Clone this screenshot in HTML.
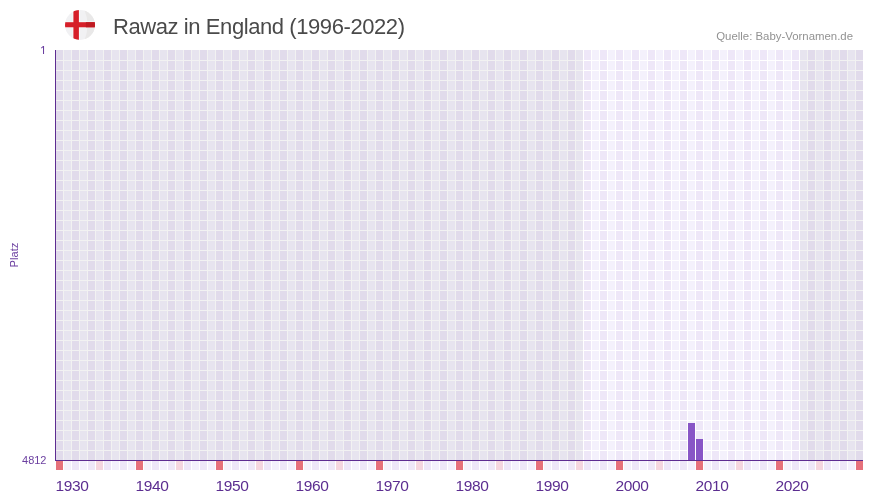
<!DOCTYPE html>
<html><head><meta charset="utf-8"><title>Rawaz in England</title>
<style>
html,body{margin:0;padding:0;background:#fff;}
body{width:873px;height:502px;position:relative;overflow:hidden;font-family:"Liberation Sans",sans-serif;}
.txt{position:absolute;left:0;top:0;width:873px;height:502px;will-change:transform;}
.title{position:absolute;left:113px;top:15px;font-size:22px;line-height:24px;color:#4a4a4a;white-space:nowrap;letter-spacing:-0.42px;}
.src{position:absolute;right:20px;top:29px;font-size:11.4px;line-height:14px;color:#929292;white-space:nowrap;}
.yl{position:absolute;width:46.5px;left:0;text-align:right;font-size:11px;line-height:12px;color:#6b3fa0;}
.xl{position:absolute;top:477px;font-size:15.5px;line-height:18px;color:#5b2d90;white-space:nowrap;letter-spacing:-0.3px;}
.platz{position:absolute;left:14px;top:255px;font-size:11.2px;line-height:12px;color:#6b3fa0;transform:translate(-50%,-50%) rotate(-90deg);white-space:nowrap;}
</style></head><body>
<svg width="873" height="502" viewBox="0 0 873 502" shape-rendering="crispEdges" style="position:absolute;left:0;top:0">
<rect x="56" y="50" width="7" height="410" fill="#eee7f8"/>
<rect x="56" y="461" width="7" height="9" fill="#e6717b"/>
<rect x="64" y="50" width="7" height="410" fill="#f4f1fc"/>
<rect x="64" y="461" width="7" height="9" fill="#f4f1fc"/>
<rect x="72" y="50" width="7" height="410" fill="#eee7f8"/>
<rect x="72" y="461" width="7" height="9" fill="#eee7f8"/>
<rect x="80" y="50" width="7" height="410" fill="#f4f1fc"/>
<rect x="80" y="461" width="7" height="9" fill="#f4f1fc"/>
<rect x="88" y="50" width="7" height="410" fill="#eee7f8"/>
<rect x="88" y="461" width="7" height="9" fill="#eee7f8"/>
<rect x="96" y="50" width="7" height="410" fill="#f4f1fc"/>
<rect x="96" y="461" width="7" height="9" fill="#f5d6df"/>
<rect x="104" y="50" width="7" height="410" fill="#eee7f8"/>
<rect x="104" y="461" width="7" height="9" fill="#eee7f8"/>
<rect x="112" y="50" width="7" height="410" fill="#f4f1fc"/>
<rect x="112" y="461" width="7" height="9" fill="#f4f1fc"/>
<rect x="120" y="50" width="7" height="410" fill="#eee7f8"/>
<rect x="120" y="461" width="7" height="9" fill="#eee7f8"/>
<rect x="128" y="50" width="7" height="410" fill="#f4f1fc"/>
<rect x="128" y="461" width="7" height="9" fill="#f4f1fc"/>
<rect x="136" y="50" width="7" height="410" fill="#eee7f8"/>
<rect x="136" y="461" width="7" height="9" fill="#e6717b"/>
<rect x="144" y="50" width="7" height="410" fill="#f4f1fc"/>
<rect x="144" y="461" width="7" height="9" fill="#f4f1fc"/>
<rect x="152" y="50" width="7" height="410" fill="#eee7f8"/>
<rect x="152" y="461" width="7" height="9" fill="#eee7f8"/>
<rect x="160" y="50" width="7" height="410" fill="#f4f1fc"/>
<rect x="160" y="461" width="7" height="9" fill="#f4f1fc"/>
<rect x="168" y="50" width="7" height="410" fill="#eee7f8"/>
<rect x="168" y="461" width="7" height="9" fill="#eee7f8"/>
<rect x="176" y="50" width="7" height="410" fill="#f4f1fc"/>
<rect x="176" y="461" width="7" height="9" fill="#f5d6df"/>
<rect x="184" y="50" width="7" height="410" fill="#eee7f8"/>
<rect x="184" y="461" width="7" height="9" fill="#eee7f8"/>
<rect x="192" y="50" width="7" height="410" fill="#f4f1fc"/>
<rect x="192" y="461" width="7" height="9" fill="#f4f1fc"/>
<rect x="200" y="50" width="7" height="410" fill="#eee7f8"/>
<rect x="200" y="461" width="7" height="9" fill="#eee7f8"/>
<rect x="208" y="50" width="7" height="410" fill="#f4f1fc"/>
<rect x="208" y="461" width="7" height="9" fill="#f4f1fc"/>
<rect x="216" y="50" width="7" height="410" fill="#eee7f8"/>
<rect x="216" y="461" width="7" height="9" fill="#e6717b"/>
<rect x="224" y="50" width="7" height="410" fill="#f4f1fc"/>
<rect x="224" y="461" width="7" height="9" fill="#f4f1fc"/>
<rect x="232" y="50" width="7" height="410" fill="#eee7f8"/>
<rect x="232" y="461" width="7" height="9" fill="#eee7f8"/>
<rect x="240" y="50" width="7" height="410" fill="#f4f1fc"/>
<rect x="240" y="461" width="7" height="9" fill="#f4f1fc"/>
<rect x="248" y="50" width="7" height="410" fill="#eee7f8"/>
<rect x="248" y="461" width="7" height="9" fill="#eee7f8"/>
<rect x="256" y="50" width="7" height="410" fill="#f4f1fc"/>
<rect x="256" y="461" width="7" height="9" fill="#f5d6df"/>
<rect x="264" y="50" width="7" height="410" fill="#eee7f8"/>
<rect x="264" y="461" width="7" height="9" fill="#eee7f8"/>
<rect x="272" y="50" width="7" height="410" fill="#f4f1fc"/>
<rect x="272" y="461" width="7" height="9" fill="#f4f1fc"/>
<rect x="280" y="50" width="7" height="410" fill="#eee7f8"/>
<rect x="280" y="461" width="7" height="9" fill="#eee7f8"/>
<rect x="288" y="50" width="7" height="410" fill="#f4f1fc"/>
<rect x="288" y="461" width="7" height="9" fill="#f4f1fc"/>
<rect x="296" y="50" width="7" height="410" fill="#eee7f8"/>
<rect x="296" y="461" width="7" height="9" fill="#e6717b"/>
<rect x="304" y="50" width="7" height="410" fill="#f4f1fc"/>
<rect x="304" y="461" width="7" height="9" fill="#f4f1fc"/>
<rect x="312" y="50" width="7" height="410" fill="#eee7f8"/>
<rect x="312" y="461" width="7" height="9" fill="#eee7f8"/>
<rect x="320" y="50" width="7" height="410" fill="#f4f1fc"/>
<rect x="320" y="461" width="7" height="9" fill="#f4f1fc"/>
<rect x="328" y="50" width="7" height="410" fill="#eee7f8"/>
<rect x="328" y="461" width="7" height="9" fill="#eee7f8"/>
<rect x="336" y="50" width="7" height="410" fill="#f4f1fc"/>
<rect x="336" y="461" width="7" height="9" fill="#f5d6df"/>
<rect x="344" y="50" width="7" height="410" fill="#eee7f8"/>
<rect x="344" y="461" width="7" height="9" fill="#eee7f8"/>
<rect x="352" y="50" width="7" height="410" fill="#f4f1fc"/>
<rect x="352" y="461" width="7" height="9" fill="#f4f1fc"/>
<rect x="360" y="50" width="7" height="410" fill="#eee7f8"/>
<rect x="360" y="461" width="7" height="9" fill="#eee7f8"/>
<rect x="368" y="50" width="7" height="410" fill="#f4f1fc"/>
<rect x="368" y="461" width="7" height="9" fill="#f4f1fc"/>
<rect x="376" y="50" width="7" height="410" fill="#eee7f8"/>
<rect x="376" y="461" width="7" height="9" fill="#e6717b"/>
<rect x="384" y="50" width="7" height="410" fill="#f4f1fc"/>
<rect x="384" y="461" width="7" height="9" fill="#f4f1fc"/>
<rect x="392" y="50" width="7" height="410" fill="#eee7f8"/>
<rect x="392" y="461" width="7" height="9" fill="#eee7f8"/>
<rect x="400" y="50" width="7" height="410" fill="#f4f1fc"/>
<rect x="400" y="461" width="7" height="9" fill="#f4f1fc"/>
<rect x="408" y="50" width="7" height="410" fill="#eee7f8"/>
<rect x="408" y="461" width="7" height="9" fill="#eee7f8"/>
<rect x="416" y="50" width="7" height="410" fill="#f4f1fc"/>
<rect x="416" y="461" width="7" height="9" fill="#f5d6df"/>
<rect x="424" y="50" width="7" height="410" fill="#eee7f8"/>
<rect x="424" y="461" width="7" height="9" fill="#eee7f8"/>
<rect x="432" y="50" width="7" height="410" fill="#f4f1fc"/>
<rect x="432" y="461" width="7" height="9" fill="#f4f1fc"/>
<rect x="440" y="50" width="7" height="410" fill="#eee7f8"/>
<rect x="440" y="461" width="7" height="9" fill="#eee7f8"/>
<rect x="448" y="50" width="7" height="410" fill="#f4f1fc"/>
<rect x="448" y="461" width="7" height="9" fill="#f4f1fc"/>
<rect x="456" y="50" width="7" height="410" fill="#eee7f8"/>
<rect x="456" y="461" width="7" height="9" fill="#e6717b"/>
<rect x="464" y="50" width="7" height="410" fill="#f4f1fc"/>
<rect x="464" y="461" width="7" height="9" fill="#f4f1fc"/>
<rect x="472" y="50" width="7" height="410" fill="#eee7f8"/>
<rect x="472" y="461" width="7" height="9" fill="#eee7f8"/>
<rect x="480" y="50" width="7" height="410" fill="#f4f1fc"/>
<rect x="480" y="461" width="7" height="9" fill="#f4f1fc"/>
<rect x="488" y="50" width="7" height="410" fill="#eee7f8"/>
<rect x="488" y="461" width="7" height="9" fill="#eee7f8"/>
<rect x="496" y="50" width="7" height="410" fill="#f4f1fc"/>
<rect x="496" y="461" width="7" height="9" fill="#f5d6df"/>
<rect x="504" y="50" width="7" height="410" fill="#eee7f8"/>
<rect x="504" y="461" width="7" height="9" fill="#eee7f8"/>
<rect x="512" y="50" width="7" height="410" fill="#f4f1fc"/>
<rect x="512" y="461" width="7" height="9" fill="#f4f1fc"/>
<rect x="520" y="50" width="7" height="410" fill="#eee7f8"/>
<rect x="520" y="461" width="7" height="9" fill="#eee7f8"/>
<rect x="528" y="50" width="7" height="410" fill="#f4f1fc"/>
<rect x="528" y="461" width="7" height="9" fill="#f4f1fc"/>
<rect x="536" y="50" width="7" height="410" fill="#eee7f8"/>
<rect x="536" y="461" width="7" height="9" fill="#e6717b"/>
<rect x="544" y="50" width="7" height="410" fill="#f4f1fc"/>
<rect x="544" y="461" width="7" height="9" fill="#f4f1fc"/>
<rect x="552" y="50" width="7" height="410" fill="#eee7f8"/>
<rect x="552" y="461" width="7" height="9" fill="#eee7f8"/>
<rect x="560" y="50" width="7" height="410" fill="#f4f1fc"/>
<rect x="560" y="461" width="7" height="9" fill="#f4f1fc"/>
<rect x="568" y="50" width="7" height="410" fill="#eee7f8"/>
<rect x="568" y="461" width="7" height="9" fill="#eee7f8"/>
<rect x="576" y="50" width="7" height="410" fill="#f4f1fc"/>
<rect x="576" y="461" width="7" height="9" fill="#f5d6df"/>
<rect x="584" y="50" width="7" height="410" fill="#eee7f8"/>
<rect x="584" y="461" width="7" height="9" fill="#eee7f8"/>
<rect x="592" y="50" width="7" height="410" fill="#f4f1fc"/>
<rect x="592" y="461" width="7" height="9" fill="#f4f1fc"/>
<rect x="600" y="50" width="7" height="410" fill="#eee7f8"/>
<rect x="600" y="461" width="7" height="9" fill="#eee7f8"/>
<rect x="608" y="50" width="7" height="410" fill="#f4f1fc"/>
<rect x="608" y="461" width="7" height="9" fill="#f4f1fc"/>
<rect x="616" y="50" width="7" height="410" fill="#eee7f8"/>
<rect x="616" y="461" width="7" height="9" fill="#e6717b"/>
<rect x="624" y="50" width="7" height="410" fill="#f4f1fc"/>
<rect x="624" y="461" width="7" height="9" fill="#f4f1fc"/>
<rect x="632" y="50" width="7" height="410" fill="#eee7f8"/>
<rect x="632" y="461" width="7" height="9" fill="#eee7f8"/>
<rect x="640" y="50" width="7" height="410" fill="#f4f1fc"/>
<rect x="640" y="461" width="7" height="9" fill="#f4f1fc"/>
<rect x="648" y="50" width="7" height="410" fill="#eee7f8"/>
<rect x="648" y="461" width="7" height="9" fill="#eee7f8"/>
<rect x="656" y="50" width="7" height="410" fill="#f4f1fc"/>
<rect x="656" y="461" width="7" height="9" fill="#f5d6df"/>
<rect x="664" y="50" width="7" height="410" fill="#eee7f8"/>
<rect x="664" y="461" width="7" height="9" fill="#eee7f8"/>
<rect x="672" y="50" width="7" height="410" fill="#f4f1fc"/>
<rect x="672" y="461" width="7" height="9" fill="#f4f1fc"/>
<rect x="680" y="50" width="7" height="410" fill="#eee7f8"/>
<rect x="680" y="461" width="7" height="9" fill="#eee7f8"/>
<rect x="688" y="50" width="7" height="410" fill="#f4f1fc"/>
<rect x="688" y="461" width="7" height="9" fill="#f4f1fc"/>
<rect x="696" y="50" width="7" height="410" fill="#eee7f8"/>
<rect x="696" y="461" width="7" height="9" fill="#e6717b"/>
<rect x="704" y="50" width="7" height="410" fill="#f4f1fc"/>
<rect x="704" y="461" width="7" height="9" fill="#f4f1fc"/>
<rect x="712" y="50" width="7" height="410" fill="#eee7f8"/>
<rect x="712" y="461" width="7" height="9" fill="#eee7f8"/>
<rect x="720" y="50" width="7" height="410" fill="#f4f1fc"/>
<rect x="720" y="461" width="7" height="9" fill="#f4f1fc"/>
<rect x="728" y="50" width="7" height="410" fill="#eee7f8"/>
<rect x="728" y="461" width="7" height="9" fill="#eee7f8"/>
<rect x="736" y="50" width="7" height="410" fill="#f4f1fc"/>
<rect x="736" y="461" width="7" height="9" fill="#f5d6df"/>
<rect x="744" y="50" width="7" height="410" fill="#eee7f8"/>
<rect x="744" y="461" width="7" height="9" fill="#eee7f8"/>
<rect x="752" y="50" width="7" height="410" fill="#f4f1fc"/>
<rect x="752" y="461" width="7" height="9" fill="#f4f1fc"/>
<rect x="760" y="50" width="7" height="410" fill="#eee7f8"/>
<rect x="760" y="461" width="7" height="9" fill="#eee7f8"/>
<rect x="768" y="50" width="7" height="410" fill="#f4f1fc"/>
<rect x="768" y="461" width="7" height="9" fill="#f4f1fc"/>
<rect x="776" y="50" width="7" height="410" fill="#eee7f8"/>
<rect x="776" y="461" width="7" height="9" fill="#e6717b"/>
<rect x="784" y="50" width="7" height="410" fill="#f4f1fc"/>
<rect x="784" y="461" width="7" height="9" fill="#f4f1fc"/>
<rect x="792" y="50" width="7" height="410" fill="#eee7f8"/>
<rect x="792" y="461" width="7" height="9" fill="#eee7f8"/>
<rect x="800" y="50" width="7" height="410" fill="#f4f1fc"/>
<rect x="800" y="461" width="7" height="9" fill="#f4f1fc"/>
<rect x="808" y="50" width="7" height="410" fill="#eee7f8"/>
<rect x="808" y="461" width="7" height="9" fill="#eee7f8"/>
<rect x="816" y="50" width="7" height="410" fill="#f4f1fc"/>
<rect x="816" y="461" width="7" height="9" fill="#f5d6df"/>
<rect x="824" y="50" width="7" height="410" fill="#eee7f8"/>
<rect x="824" y="461" width="7" height="9" fill="#eee7f8"/>
<rect x="832" y="50" width="7" height="410" fill="#f4f1fc"/>
<rect x="832" y="461" width="7" height="9" fill="#f4f1fc"/>
<rect x="840" y="50" width="7" height="410" fill="#eee7f8"/>
<rect x="840" y="461" width="7" height="9" fill="#eee7f8"/>
<rect x="848" y="50" width="7" height="410" fill="#f4f1fc"/>
<rect x="848" y="461" width="7" height="9" fill="#f4f1fc"/>
<rect x="856" y="50" width="7" height="410" fill="#eee7f8"/>
<rect x="856" y="461" width="7" height="9" fill="#e6717b"/>
<rect x="56" y="60" width="807" height="1" fill="#fff"/>
<rect x="56" y="70" width="807" height="1" fill="#fff"/>
<rect x="56" y="80" width="807" height="1" fill="#fff"/>
<rect x="56" y="90" width="807" height="1" fill="#fff"/>
<rect x="56" y="100" width="807" height="1" fill="#fff"/>
<rect x="56" y="110" width="807" height="1" fill="#fff"/>
<rect x="56" y="120" width="807" height="1" fill="#fff"/>
<rect x="56" y="130" width="807" height="1" fill="#fff"/>
<rect x="56" y="140" width="807" height="1" fill="#fff"/>
<rect x="56" y="150" width="807" height="1" fill="#fff"/>
<rect x="56" y="160" width="807" height="1" fill="#fff"/>
<rect x="56" y="170" width="807" height="1" fill="#fff"/>
<rect x="56" y="180" width="807" height="1" fill="#fff"/>
<rect x="56" y="190" width="807" height="1" fill="#fff"/>
<rect x="56" y="200" width="807" height="1" fill="#fff"/>
<rect x="56" y="210" width="807" height="1" fill="#fff"/>
<rect x="56" y="220" width="807" height="1" fill="#fff"/>
<rect x="56" y="230" width="807" height="1" fill="#fff"/>
<rect x="56" y="240" width="807" height="1" fill="#fff"/>
<rect x="56" y="250" width="807" height="1" fill="#fff"/>
<rect x="56" y="260" width="807" height="1" fill="#fff"/>
<rect x="56" y="270" width="807" height="1" fill="#fff"/>
<rect x="56" y="280" width="807" height="1" fill="#fff"/>
<rect x="56" y="290" width="807" height="1" fill="#fff"/>
<rect x="56" y="300" width="807" height="1" fill="#fff"/>
<rect x="56" y="310" width="807" height="1" fill="#fff"/>
<rect x="56" y="320" width="807" height="1" fill="#fff"/>
<rect x="56" y="330" width="807" height="1" fill="#fff"/>
<rect x="56" y="340" width="807" height="1" fill="#fff"/>
<rect x="56" y="350" width="807" height="1" fill="#fff"/>
<rect x="56" y="360" width="807" height="1" fill="#fff"/>
<rect x="56" y="370" width="807" height="1" fill="#fff"/>
<rect x="56" y="380" width="807" height="1" fill="#fff"/>
<rect x="56" y="390" width="807" height="1" fill="#fff"/>
<rect x="56" y="400" width="807" height="1" fill="#fff"/>
<rect x="56" y="410" width="807" height="1" fill="#fff"/>
<rect x="56" y="420" width="807" height="1" fill="#fff"/>
<rect x="56" y="430" width="807" height="1" fill="#fff"/>
<rect x="56" y="440" width="807" height="1" fill="#fff"/>
<rect x="56" y="450" width="807" height="1" fill="#fff"/>
<rect x="56" y="50" width="527" height="410" fill="#000" fill-opacity="0.05"/>
<rect x="800" y="50" width="63" height="410" fill="#000" fill-opacity="0.05"/>
<rect x="688" y="423" width="7" height="37" fill="#8855c6"/>
<rect x="696" y="439" width="7" height="21" fill="#8855c6"/>
<rect x="55" y="50" width="1" height="411" fill="#5e2d91"/>
<rect x="55" y="460" width="808" height="1" fill="#5e2d91"/>
</svg>
<svg width="30" height="30" viewBox="0 0 30 30" style="position:absolute;left:65px;top:10px">
<defs><clipPath id="fc"><circle cx="15" cy="15" r="15"/></clipPath></defs>
<g clip-path="url(#fc)">
<rect width="30" height="30" fill="#f1f1f3"/>
<path d="M19.5 0 Q25.5 15 19.5 30 L30 30 L30 0 Z" fill="#e9e8e8"/>
<path d="M7.6 -1 H14.7 V11.4 H31 V18.1 H14.7 V31 H7.6 V18.1 H-1 V11.4 H7.6 Z" fill="#f7fdfd"/>
<rect x="8.4" y="0" width="5.5" height="30" fill="#d61f29"/>
<rect x="0" y="12.2" width="30" height="5.1" fill="#d61f29"/>
<rect x="20.9" y="12.2" width="10" height="5.1" fill="#bf1a21"/>
</g></svg>
<div class="txt">
<div class="title">Rawaz in England (1996-2022)</div>
<div class="src">Quelle: Baby-Vornamen.de</div>
<svg width="8" height="10" viewBox="0 0 8 10" style="position:absolute;left:39px;top:45px" role="img" aria-label="1"><title>1</title><path d="M4.05 1.05 H5.05 V9 H4.0 V2.35 L2.55 3.5 L2.0 2.8 Z" fill="#6b3fa0"/></svg>
<div class="yl" style="top:454px">4812</div>
<div class="platz">Platz</div>
<div class="xl" style="left:55.4px">1930</div><div class="xl" style="left:135.4px">1940</div><div class="xl" style="left:215.4px">1950</div><div class="xl" style="left:295.4px">1960</div><div class="xl" style="left:375.4px">1970</div><div class="xl" style="left:455.4px">1980</div><div class="xl" style="left:535.4px">1990</div><div class="xl" style="left:615.4px">2000</div><div class="xl" style="left:695.4px">2010</div><div class="xl" style="left:775.4px">2020</div>
</div>
</body></html>
